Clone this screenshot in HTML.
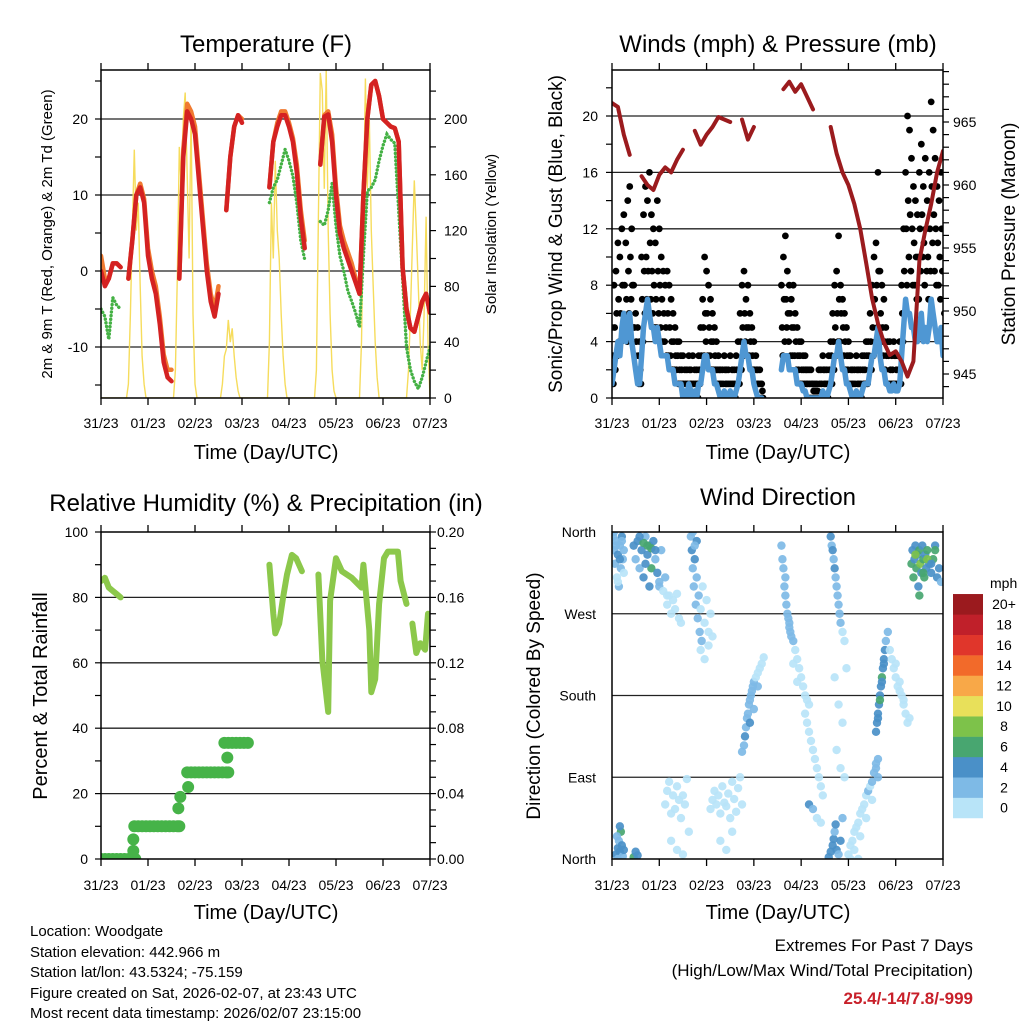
<!DOCTYPE html>
<html><head><meta charset="utf-8"><style>
html,body{margin:0;padding:0;background:#fff;}
svg{display:block;font-family:"Liberation Sans",Arial,sans-serif;}
</style></head>
<body>
<svg id="root" width="1024" height="1024" viewBox="0 0 1024 1024" xmlns="http://www.w3.org/2000/svg">
<defs>
<clipPath id="c1"><rect x="101" y="70" width="329" height="328"/></clipPath>
<clipPath id="c2"><rect x="612" y="70" width="331" height="328"/></clipPath>
<clipPath id="c3"><rect x="101" y="532" width="329" height="327"/></clipPath>
<clipPath id="c4"><rect x="612" y="532" width="331" height="327"/></clipPath>
</defs>
<text x="266" y="52" font-size="24" text-anchor="middle">Temperature (F)</text>
<text x="778" y="52" font-size="24" text-anchor="middle">Winds (mph) &amp; Pressure (mb)</text>
<text x="266" y="511" font-size="24" text-anchor="middle">Relative Humidity (%) &amp; Precipitation (in)</text>
<text x="778" y="505" font-size="24" text-anchor="middle">Wind Direction</text>

<text x="266" y="459" font-size="20" text-anchor="middle">Time (Day/UTC)</text>
<text x="778" y="459" font-size="20" text-anchor="middle">Time (Day/UTC)</text>
<text x="266" y="919" font-size="20" text-anchor="middle">Time (Day/UTC)</text>
<text x="778" y="919" font-size="20" text-anchor="middle">Time (Day/UTC)</text>

<text transform="translate(52,234) rotate(-90)" font-size="15" text-anchor="middle">2m &amp; 9m T (Red, Orange) &amp; 2m Td (Green)</text>
<text transform="translate(496,234) rotate(-90)" font-size="15" text-anchor="middle">Solar Insolation (Yellow)</text>
<text transform="translate(562,234) rotate(-90)" font-size="19" text-anchor="middle">Sonic/Prop Wind &amp; Gust (Blue, Black)</text>
<text transform="translate(1015,234) rotate(-90)" font-size="19" text-anchor="middle">Station Pressure (Maroon)</text>
<text transform="translate(47,696) rotate(-90)" font-size="20" text-anchor="middle">Percent &amp; Total Rainfall</text>
<text transform="translate(540,696) rotate(-90)" font-size="19" text-anchor="middle">Direction (Colored By Speed)</text>

<g font-size="15">
<text x="30" y="936">Location: Woodgate</text>
<text x="30" y="957">Station elevation: 442.966 m</text>
<text x="30" y="977">Station lat/lon: 43.5324; -75.159</text>
<text x="30" y="998">Figure created on Sat, 2026-02-07, at 23:43 UTC</text>
<text x="30" y="1018">Most recent data timestamp: 2026/02/07 23:15:00</text>
</g>
<text x="973" y="951" font-size="17" text-anchor="end">Extremes For Past 7 Days</text>
<text x="973" y="976" font-size="17" text-anchor="end">(High/Low/Max Wind/Total Precipitation)</text>
<text x="973" y="1004" font-size="17" font-weight="bold" fill="#c8202a" text-anchor="end">25.4/-14/7.8/-999</text>
</svg>
<script>
// ===== DATA =====
const dayLabels = ["31/23","01/23","02/23","03/23","04/23","05/23","06/23","07/23"];
const tempRed = [0,-2,-1,1,1,0.5,null,-1,4,10,11,9,2,-1,-3,-7,-12,-14,-14.5,null,-1,15,21,20,18,12,6,0,-4,-6,-3,null,8,15,19,20.5,19.5,null,null,null,null,null,null,11,17,19,20.5,20.5,19,17,13,7,3,null,null,null,14,20.3,20.6,17,10,5,3,1.5,0,-1.5,-3,10,20,24.5,25,23,20,19.5,19,18.8,17,0.5,-5,-7.5,-8,-6,-4,-3,-5.5];
const tempOrange = [2,-1,-1,1,1,0.5,null,-1,4,10,11.5,9.5,3,0,-2,-6,-11,-13,-13,null,-1,16,22,21,19,13,7,1,-3,-5,-2,null,8,15,19,20.5,20,null,null,null,null,null,null,11,17,19.5,21,21,19.5,17.5,14,8,4,null,null,null,14,20.5,21,18,11,6,4,2.5,1,-1,-3,10,20,24.5,25,23,20,19.5,19,18.8,17,0.5,-5,-7.5,-8,-6,-4,-3,-5.5];
const dewGreen = [-5,-6,-9,-3.5,-4.5,-5,null,null,null,null,null,null,null,null,null,null,null,null,null,null,null,null,null,null,null,null,null,null,null,null,null,null,null,null,null,null,null,null,null,null,null,null,null,9,11,12,14,16,14.5,12.5,9,4,1.5,null,null,null,6.5,6,8,11.5,6,2,0,-2.6,-4,-5.5,-7.4,2,10.5,11,12,14.5,16.5,18,17.3,16.8,8,-1,-10,-13,-14.5,-15.5,-14,-12,-10];
const solar = [0,0,0,0,0,0,0,0,0,0,0,0,0,0,10,60,120,178,120,140,80,30,10,0,
0,0,0,0,0,0,0,0,0,0,0,0,0,0,20,90,180,150,200,219,160,100,205,60,10,0,
0,0,0,0,0,0,0,0,0,0,0,0,10,30,35,56,40,50,30,15,5,0,
0,0,0,0,0,0,0,0,0,0,0,0,0,0,40,140,100,170,120,100,60,30,10,0,
0,0,0,0,0,0,0,0,0,0,0,0,0,0,20,130,233,220,150,235,120,60,20,5,0,
0,0,0,0,0,0,0,0,0,0,0,0,40,130,229,150,200,120,80,40,15,0,
0,0,0,0,0,0,0,0,0,0,0,0,0,0,20,60,110,156,120,80,40,20,60,130,40,0];
const gustHi = [5,8,9,11,10,12,13,11,14,15,12, 8,6,5,4, 10,13,15,14,16,13,12,11,14,12,10,9,8, 9,8,7,6,5,4,4,3, 3,2,2,3,2,3,2,2,3, 5,7,10,9,8,7,6,5,4,3,2, 2,3,2,2,3,2,2,3,4, 6,8,9,7,8,6,5,4,3, 2,2,1, null,null,null,null,null,null,null,null,null, 8,10,11.5,9,8,7,8,6,5,4,4, 3,3,2,2,2,1,1,1, 2,2,3,2,2,3, 4,6,8,9,11.5,8,7,6,5,4, 3,2,2,3,2,2,3,3,4,4, 6,8,10,11,16,9,8,7, 5,4,4,3,4,3,3,4, 8,12,16,20,19,17,15,14, 13,16,18,15,17,14,16,21,19,17,15,14,16,12];
const gustMid = [3,5,6,7,6,8,8,7,9,10,8, 5,4,3,2, 7,9,10,9,11,9,8,7,9,8,7,6,5, 6,5,4,4,3,3,2,2, 1,1,1,2,1,1,1,1,2, 3,5,6,6,5,4,4,3,2,2,1, 1,2,1,1,1,1,1,2,2, 4,5,6,5,5,4,3,2,2, 1,1,0.5, null,null,null,null,null,null,null,null,null, 5,7,7,6,6,5,5,4,3,3,2, 2,2,1,1,1,0.5,0.5,0.5, 1,1,2,1,1,2, 3,4,5,6,7,6,5,4,3,3, 2,1,1,2,1,1,2,2,3,3, 4,5,7,8,9,6,5,4, 3,3,2,2,3,2,2,3, 6,9,12,14,13,12,11,10, 10,12,13,11,12,10,12,15,13,12,11,10,12,9];
const gustLo = [1,2,3,4,4,5,5,4,6,7,5, 3,2,1,1, 4,6,7,6,7,6,5,5,6,5,4,4,3, 3,3,2,2,2,1,1,1, 0,0,0,1,0,0,0,0,1, 2,3,4,3,3,2,2,2,1,1,0, 0,1,0,0,0,0,0,1,1, 2,3,4,3,3,2,2,1,1, 0,0,0, null,null,null,null,null,null,null,null,null, 3,4,5,4,3,3,3,2,2,1,1, 1,1,0,0,0,0,0,0, 0,0,1,0,0,1, 1,2,3,4,4,3,3,2,2,1, 1,0,0,1,0,0,1,1,1,2, 2,3,4,5,5,4,3,2, 1,1,1,1,1,1,1,1, 4,6,8,10,9,8,8,7, 7,9,10,8,9,7,9,11,9,8,8,7,9,6];
const windSpd = [1,2,3,4,3,5,6,4,5,6,4, 3,2,1,1, 3,5,6,7,6,5,5,4,5,4,3,3,3, 3,2,2,2,1,1,1,1, 0,0.5,0,1,0.5,0,0.5,0,1, 1,2,3,3,2,2,2,1,1,0.5,0, 0,0.5,0,0,0.5,0,0,0.5,1, 2,3,4,3,3,2,2,1,0.5, 0,0,0, null,null,null,null,null,null,null,null,null, 2,3,3,3,2,2,2,2,1,1,1, 0.5,0.5,0,0,0,0,0,0, 0,0,0.5,0,0,0.5, 1,2,3,3,4,3,2,2,1,1, 0.5,0,0,0.5,0,0,0.5,1,1,1, 2,3,3,4,5,3,2,2, 1,1,0.5,0.5,1,0.5,0.5,1, 3,5,7,6,6,5,5,4, 4,5,6,4,5,4,5,7,6,5,4,4,5,3];
const pressure = [966.5,966.2,964,962.4,null,960.7,960.0,959.6,960.8,961.4,961.0,962.0,962.8,null,964.3,963.2,964.0,964.6,965.4,965.2,965.0,null,965.2,963.6,964.6,null,null,null,null,967.6,968.2,967.4,968.0,967.0,966.0,null,null,964.6,962.5,961.0,960.0,958.5,956.5,953.8,951.0,949.0,947.5,946.5,946.8,946.0,944.8,946,954.0,956.4,958.5,961.0,962.7];
const rhHours = [0,2,4,6,8,10,null,86,88,89,91,93,95,97.5,99.6,102.6,null,111,113,116,117,120,123,128,133,134,137,138,140,142,144.5,146.5,151.6,153,156,null,159,161,163,165.5,167];
const rhVals = [85,86,83,82,81,80,null,90,75,69,72,80,87,93,92,88,null,87,61,45,79,92,88,86,83,90,70,51,55,78,92,94,94,85,78,null,72,63,66,64,75];
const pHours = [0,2,4,6,8,10,12,14,16,17.5,16.5,16.5,17,19,21,23,25,27,29,31,33,35,37,39,40,39.5,40.5,44.5,44,46,48,50,52,54,56,58,60,62,64,65,64.5,63,65,67,69,71,73,75];
const pVals = [0,0,0,0,0,0,0,0,0,0,0.005,0.012,0.02,0.02,0.02,0.02,0.02,0.02,0.02,0.02,0.02,0.02,0.02,0.02,0.02,0.031,0.038,0.044,0.053,0.053,0.053,0.053,0.053,0.053,0.053,0.053,0.053,0.053,0.053,0.053,0.062,0.071,0.071,0.071,0.071,0.071,0.071,0.071];
const wdHour = [0.5,1,1.5,2,2.5,3,3.5,4,4.5,5,5.5,6,1,2,3,4,5,6,
11,12,13,14,15,16,17,18,19,20,21,22,23,24,25,26,27,28,16,18,20,22,14,17,19,24,
28,29,30,31,32,33,34,35,
2,3,3.5,4,4.5,5,5.5,6,2.5,4,11,12,13,3,
27,28,29,30,31,32,33,34,35,36,37,38,30,33,36,39,
40,40.5,41,41.5,42,42.5,43,43.5,44,44.5,45,45.5,46,47,48,49,50,41,43,45,47,49,51,42,
50,51,52,53,54,55,56,57,58,59,60,61,62,63,64,65,66,55,58,61,
66,67,67.5,68,68.5,69,69.5,70,70.5,71,71.5,72,73,74,75,76,77,70,72,74,
86,86.5,87,87.5,88,88.5,89,89.5,90,90.5,91,92,93,94,95,96,97,98,99,100,88,90,92,94,
98,99,100,101,102,103,104,105,106,107,100,102,104,106,
111,111.5,112,112.5,113,113.5,114,114.5,115,115.5,116,117,118,113,115,117,114,116,118,119,
110,111,112,112.5,113,113.5,114,115,116,117,
120,121,122,123,124,125,126,127,128,129,130,131,132,133,134,135,123,126,129,132,121,125,134,135,
134,134.5,135,135.5,136,136.5,137,137.5,138,138.5,139,136,137,135,138,140,
141,142,143,144,145,146,147,148,149,150,151,144,146,148,
152,152.5,153,153.5,154,154.5,155,155.5,156,156.5,157,157.5,158,158.5,159,159.5,160,161,162,163,164,165,166,167,154,156,158,160,162,164];
const wdDir = [355,340,325,350,310,335,300,345,320,355,330,315,360,345,305,330,350,340,
345,330,350,320,340,310,355,335,345,320,350,330,315,300,340,295,310,290,348,345,342,340,355,325,300,305,
280,290,270,285,275,292,265,260,
5,12,20,8,30,15,3,10,25,36,2,8,4,0,
60,75,85,50,70,55,80,65,45,70,60,88,20,10,5,30,
355,340,320,300,330,280,310,265,290,250,275,240,300,260,285,250,270,360,350,230,220,235,245,345,
55,65,75,60,70,50,80,62,58,72,45,85,66,52,78,90,60,20,10,30,
118,125,135,145,155,160,170,175,180,185,190,195,200,205,210,215,222,150,165,190,
345,330,320,300,290,280,270,265,260,250,245,240,230,220,210,200,190,180,175,170,310,255,215,195,
160,150,140,130,120,110,100,90,80,70,60,55,45,40,
355,345,340,330,320,310,300,290,280,270,260,250,240,200,170,150,120,100,90,210,
2,8,15,22,30,38,10,5,20,45,
5,15,20,30,35,40,50,55,60,70,75,80,85,95,100,110,10,25,45,65,0,0,105,90,
140,150,160,170,180,190,200,210,220,230,240,175,195,155,215,250,
230,220,210,200,190,185,180,170,160,150,155,215,195,175,
325,340,310,330,345,320,335,300,340,325,315,345,330,310,335,320,340,325,315,330,345,310,320,305,335,290,315,330,325,340];
const wdSpd = [3,2,2,3,1,4,2,3,2,4,2,1,2,3,1,4,3,2,
4,3,4,3,5,4,3,4,5,6,4,3,4,2,3,1,2,1,6,7,6,4,4,5,4,3,
0,1,0,0,1,0,0,0,
4,5,3,4,6,4,3,4,2,5,6,4,5,3,
0,0,1,0,0,0,1,0,0,1,0,0,0,0,0,0,
3,4,3,2,4,3,2,3,2,3,1,2,1,0,1,0,0,2,4,1,0,0,0,3,
0,0,0,1,0,0,1,0,0,0,1,0,0,0,1,0,0,0,0,0,
3,3,4,3,3,2,3,2,3,2,2,2,1,1,1,0,0,4,3,2,
3,2,2,3,2,2,2,3,2,2,2,2,1,1,1,0,0,0,1,0,3,2,1,0,
0,0,0,1,0,0,0,1,0,0,4,3,0,1,
4,3,4,3,4,3,2,3,2,3,2,1,1,0,0,0,0,0,0,0,
4,4,5,4,3,4,4,3,4,2,
0,0,1,0,0,1,0,0,1,1,2,1,2,2,2,2,0,0,1,1,0,0,3,2,
4,5,4,4,5,4,6,4,4,5,3,7,4,4,4,2,
0,1,0,0,1,0,0,0,1,0,0,0,0,0,
6,4,7,5,4,6,5,4,6,8,5,4,7,6,5,4,6,5,4,6,5,4,5,3,8,6,7,9,5,6];
const speedLabels = ["0","2","4","6","8","10","12","14","16","18","20+"];
const dirLabels = ["North","East","South","West","North"];

// ===== STYLE =====
const speedColors = ["#b8e4f8","#7ebae6","#4a90c8","#48a670","#7dc24a","#e8e05a","#f8a848","#f26a2a","#e0362b","#c0202a","#9b1a1e"];
const NS = "http://www.w3.org/2000/svg";
const root = document.getElementById("root");
function mk(tag, attrs, parent){ const e=document.createElementNS(NS,tag); for(const k in attrs) e.setAttribute(k,attrs[k]); (parent||root).appendChild(e); return e; }
function pathD(xs, ys){ let d="", pen=false; for(let i=0;i<xs.length;i++){ if(xs[i]==null||ys[i]==null){pen=false;continue;} d+=(pen?"L":"M")+xs[i].toFixed(1)+","+ys[i].toFixed(1); pen=true; } return d; }

const xT = h => 101 + h*329/168;
const xW = h => 612 + h*331/168;
const yTemp = v => 271 - v*7.6;
const ySolar = v => 398 - v*1.395;
const ySpd = v => 398 - v*14.1;
const yPres = p => 122 - (p-965)*12.6;
const yRH = v => 859 - v*3.27;
const yPcp = v => 859 - v*1635;
const yDir = d => 859 - d*327/360;

function frame(name, x0, y0, w, h, xfun, labelY){
  const g = mk("g", {});
  
  
  for(let d=0; d<8; d++){
    const x = xfun(d*24);
    const t1 = mk("line",{x1:x,y1:y0-7,x2:x,y2:y0,stroke:"#000","stroke-width":1.3},g);
    
    
    const t2 = mk("line",{x1:x,y1:y0+h,x2:x,y2:y0+h+7,stroke:"#000","stroke-width":1.3},g);
    
    
    const tl = mk("text",{x:x,y:labelY,"font-size":14,"text-anchor":"middle"},g);
    tl.textContent = dayLabels[d];
    
    
  }
  return g;
}
function border(name,x0,y0,w,h){
  const r = mk("rect",{x:x0,y:y0,width:w,height:h,fill:"none",stroke:"#000","stroke-width":1.5});
  
  
}
function grid(x0,x1,y){
  const l = mk("line",{x1:x0,y1:y,x2:x1,y2:y,stroke:"#222","stroke-width":1.3});
  
  
}
function ytick(x,y,len,label,lx,anchor,fs){
  const t = mk("line",{x1:x,y1:y,x2:x+len,y2:y,stroke:"#000","stroke-width":1.2});
  
  
  if(label!=null){
    const tx = mk("text",{x:lx,y:y+5,"font-size":fs||14,"text-anchor":anchor});
    tx.textContent = label;
    
    
  }
}

// ===== PANEL 1: TEMPERATURE =====
frame("temperature",101,70,329,328,xT,428);
[20,10,0,-10].forEach(v=>grid(101,430,yTemp(v)));
for(let v=-15; v<=25; v+=5) ytick(95,yTemp(v),6, v%10===0?String(v):null, 88,"end");
for(let v=0; v<=220; v+=20) ytick(430,ySolar(v),6, v%40===0?String(v):null, 444,"start");
const gT = mk("g",{"clip-path":"url(#c1)"});


const hSolar = solar.map((v,i)=>i);
const hTemp = tempRed.map((v,i)=>i*2);
const solarLine = mk("path",{d:pathD(hSolar.map(xT), solar.map(ySolar)),fill:"none",stroke:"#f6dc5c","stroke-width":1.4},gT);


const dewLine = mk("path",{d:pathD(hTemp.map(xT), dewGreen.map(v=>v==null?null:yTemp(v))),fill:"none",stroke:"#44b144","stroke-width":3.4,"stroke-dasharray":"0.1 3.6","stroke-linecap":"round"},gT);


const orLine = mk("path",{d:pathD(hTemp.map(xT), tempOrange.map(v=>v==null?null:yTemp(v))),fill:"none",stroke:"#f07a30","stroke-width":4.5,"stroke-linecap":"round","stroke-linejoin":"round"},gT);


const redLine = mk("path",{d:pathD(hTemp.map(xT), tempRed.map(v=>v==null?null:yTemp(v))),fill:"none",stroke:"#d42222","stroke-width":4.5,"stroke-linecap":"round","stroke-linejoin":"round"},gT);


border("temperature",101,70,329,328);

// ===== PANEL 2: WINDS =====
frame("winds",612,70,331,328,xW,428);
[4,8,12,16,20].forEach(v=>grid(612,943,ySpd(v)));
for(let v=0; v<=22; v+=2) ytick(606,ySpd(v),6, v%4===0?String(v):null, 598,"end");
for(let p=944; p<=969; p+=1) ytick(943,yPres(p),6, p%5===0?String(p):null, 953,"start");
const gW = mk("g",{"clip-path":"url(#c2)"});


const gustOffsets = [0, 0.35, 0.7];
[gustHi,gustMid,gustLo].forEach((arr,k)=>{
  arr.forEach((v,i)=>{
    if(v==null) return;
    const c = mk("circle",{cx:xW(i+gustOffsets[k]),cy:ySpd(v),r:3.4,fill:"#000"},gW);
    
    
  });
});
const hW = windSpd.map((v,i)=>i);
const windLine = mk("path",{d:pathD(hW.map(xW), windSpd.map(v=>v==null?null:ySpd(v))),fill:"none",stroke:"#4f97d3","stroke-width":5.5,"stroke-linejoin":"round","stroke-linecap":"round"},gW);


const hP = pressure.map((v,i)=>i*3);
const presLine = mk("path",{d:pathD(hP.map(xW), pressure.map(v=>v==null?null:yPres(v))),fill:"none",stroke:"#9b1b1e","stroke-width":4,"stroke-linejoin":"round","stroke-linecap":"round"},gW);


border("winds",612,70,331,328);

// ===== PANEL 3: HUMIDITY =====
frame("humidity",101,532,329,327,xT,890);
[20,40,60,80].forEach(v=>grid(101,430,yRH(v)));
for(let v=0; v<=100; v+=10) ytick(95,yRH(v),6, v%20===0?String(v):null, 88,"end");
for(let k=0; k<=20; k++) ytick(430,yPcp(k/100),6, k%4===0?(k/100).toFixed(2):null, 437,"start");
const gR = mk("g",{"clip-path":"url(#c3)"});


const rhLine = mk("path",{d:pathD(rhHours.map(h=>h==null?null:xT(h)), rhVals.map(v=>v==null?null:yRH(v))),fill:"none",stroke:"#8cc84b","stroke-width":6,"stroke-linecap":"round","stroke-linejoin":"round"},gR);


pHours.forEach((h,i)=>{
  const c = mk("circle",{cx:xT(h),cy:yPcp(pVals[i]),r:6,fill:"#46b348"},gR);
  
  
});
border("humidity",101,532,329,327);

// ===== PANEL 4: WIND DIRECTION =====
frame("direction",612,532,331,327,xW,890);
[90,180,270].forEach(v=>grid(612,943,yDir(v)));
dirLabels.forEach((lab,i)=>{
  const t = mk("text",{x:596,y:yDir(i*90)+5,"font-size":14,"text-anchor":"end"});
  t.textContent = lab;
  
  
});
const gD = mk("g",{"clip-path":"url(#c4)"});


const nD = Math.min(wdHour.length, wdDir.length, wdSpd.length);
for(let i=0;i<nD;i++){
  const ci = Math.max(0, Math.min(10, Math.floor(wdSpd[i]/2)));
  const c = mk("circle",{cx:xW(wdHour[i]),cy:yDir(wdDir[i]),r:4.2,fill:speedColors[ci],"fill-opacity":0.92},gD);
  
  
}
border("direction",612,532,331,327);

// Colorbar
const cb = mk("g",{});


const mph = mk("text",{x:990,y:588,"font-size":14},cb);
mph.textContent = "mph";


for(let k=0;k<11;k++){
  const yTop = 818 - (k+1)*20.36;
  const r = mk("rect",{x:953,y:yTop,width:30,height:20.6,fill:speedColors[k]},cb);
  
  
  const t = mk("text",{x:1004,y:yTop+15,"font-size":14,"text-anchor":"middle"},cb);
  t.textContent = speedLabels[k];
  
  
}
</script>
</body></html>
